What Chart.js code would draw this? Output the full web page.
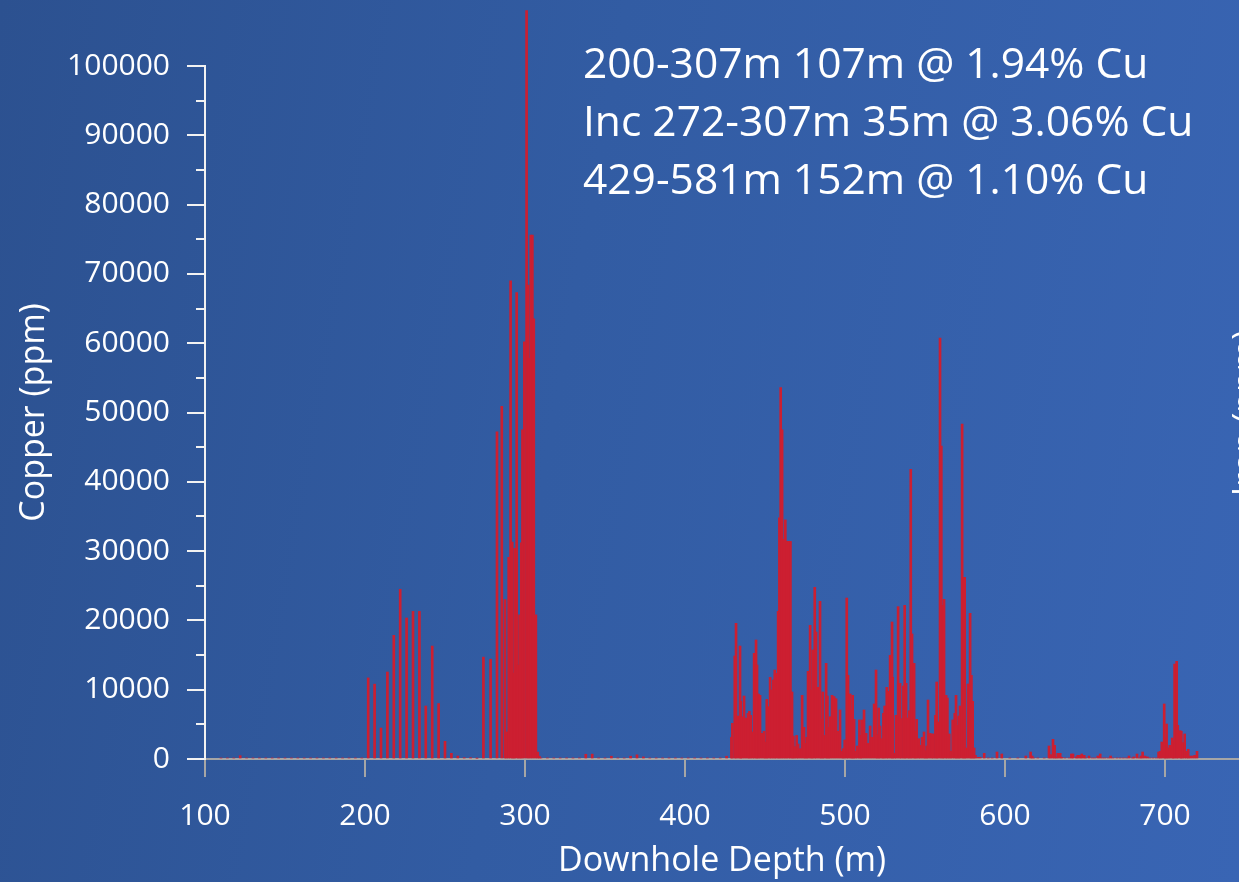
<!DOCTYPE html>
<html>
<head>
<meta charset="utf-8">
<script src="https://cdn.jsdelivr.net/npm/chart.js@4.4.0/dist/chart.umd.min.js"></script>
<style>
  html, body { margin: 0; padding: 0; overflow: hidden; }
  body {
    width: 1239px; height: 882px;
    background: linear-gradient(100deg, #2c5190 0%, #325ca3 45%, #3965b4 100%);
    font-family: "Open Sans", sans-serif;
  }
  canvas { display: block; }
</style>
</head>
<body>
<canvas id="copperChart" width="1239" height="882"></canvas>
<script>
// 4m composites above the first mineralised zone
const bgDepths = [110,114,118,122,126,130,134,138,142,146,150,154,158,162,166,170,174,178,182,186,190,194,198];
const bgCu = [150,150,150,480,150,150,150,150,150,150,150,150,150,150,150,150,150,150,150,150,150,150,150];

// 200-272m, 4m composites
const upperDepths = [202,206,210,214,218,222,226,230,234,238,242,246,250,254,258,262,266,270];
const upperCu = [11700,10800,4470,12550,17850,24490,20350,21300,21300,7650,16300,8000,2550,820,430,190,190,100];

// 272-307m high grade interval
const highDepths = [274,278.5,282.5,285.5,287.5,288.5,289.8,291,292,292.8,293.6,294.8,295.8,296.6,297.7,298.4,299.6,301,301.9,302.7,303.6,304.6,305.5,306.8,308,309];
const highCu = [14700,14400,47200,50900,23000,3900,29100,69000,31300,12400,30400,67300,13550,20800,31200,47500,60200,108000,68400,57800,75600,75600,63500,20800,1000,400];

// gap between zones
const midDepths = [310,314,318,322,326,330,334,338,342,346,350,354,358,362,366,370,374,378,382,386,390,394,398,402,406,410,414,418,422,426];
const midCu = [150,150,150,150,150,150,150,680,700,150,150,400,150,150,400,600,300,150,150,150,150,150,150,150,150,150,150,150,150,400];

// 429-581m zone, first half
const mainADepths = [429.0,429.6,431.1,431.9,433.0,434.4,434.8,435.7,436.9,438.2,439.4,440.2,441.1,442.3,443.2,444.4,445.0,445.9,446.9,448.2,449.4,450.2,451.1,451.9,453.2,454.0,455.2,456.1,457.1,458.2,459.0,459.8,460.7,461.5,462.7,463.6,464.8,465.9,466.9,467.7,468.6,469.8,470.7,471.9,473.2,474.4,475.2,476.1,476.9,478.2,479.2,479.8,481.1,481.9,483.2,484.4,485.2,486.1,486.9,488.2,489.0,489.8,490.7,491.9,493.2,494.4,495.7,496.9,498.2,499.0,499.8,501.1,501.9,503.2,504.2];
const mainACu = [3130,5150,14860,19580,6200,16300,8320,6100,9090,5900,6590,6880,6300,3900,15250,17170,13560,9380,9190,3700,4000,2450,8600,7550,11780,9960,11400,12840,12360,21300,34800,53600,47500,31700,34500,31400,31400,31400,9670,3300,1780,3400,2160,1490,9190,4570,2260,3130,12650,19290,9960,15730,24770,18330,10340,22750,5720,9670,3400,13800,9090,4570,6100,9190,9000,8700,4000,7070,1100,1490,2740,23230,12070,9380,7070];

// 429-581m zone, second half
const mainBDepths = [504.8,505.7,506.5,507.7,509.0,509.8,510.7,511.9,513.2,514.4,515.7,516.9,518.2,519.4,520.2,521.1,521.9,523.2,524.0,524.8,526.1,526.9,528.2,529.4,529.8,531.1,531.9,533.2,534.4,535.2,536.5,537.3,538.2,539.4,540.2,541.1,541.9,543.2,544.0,544.8,546.1,546.9,548.2,549.4,550.2,551.1,551.9,553.2,554.4,555.2,556.5,557.3,558.2,559.4,560.2,561.1,561.9,563.2,564.0,565.2,566.1,567.3,568.6,569.4,570.2,571.1,571.9,573.2,574.0,574.8,575.7,576.9,578.2,579.0,579.8,580.7,581.5];
const mainBCu = [9190,5720,1100,1880,5630,3400,5630,7070,3700,2260,4760,3130,7940,12840,3510,7360,4760,2930,6590,7650,10340,9760,14960,19770,11780,820,6300,21980,10920,5820,10530,22170,10920,5920,6970,41800,18040,13800,4000,5720,2930,1970,3130,3900,1200,1880,8510,3700,3610,3610,6300,11110,5340,60750,45170,22170,23040,9190,8800,3610,1100,5630,6590,9190,4860,6200,7650,48340,26210,26210,1590,10820,21020,12070,8320,1590,530];

// below 581m
const lowerDepths = [583,584.5,587,589.5,592,595,598,603,608,613,616,617,618,620.5,624.5,627.5,628.5,630,631,632,633,634.5,635.5,637.5,640,641.5,642.5,644.5,645.5,647,648,649.5,650.5,652.5,654.5,656,658,659.5,661,662.5,664.5,666,667.5,670,672,674,676,677.5,679.5,680.5,682.5,684,685,686,687.5,689,690.5,692.5,694.5,696,697,698,699.5,700.2,701,702,703,704.5,705.2,706,707.3,708,709.5,710.2,711,712.3,713.5,714.5,715.5,717,718.5,720];
const lowerCu = [240,240,820,150,150,1010,720,150,150,430,1010,430,150,150,150,1880,625,2840,1970,250,820,820,250,150,150,720,720,300,530,530,720,530,150,430,150,150,430,720,150,150,150,430,150,150,150,150,150,430,150,300,720,150,430,1010,430,300,150,150,150,1010,1110,2450,7940,3030,5050,1590,1970,3030,2550,13700,14090,4860,4090,3990,2360,3610,1110,1400,430,430,530,1110];

const xTicks = [100,200,300,400,500,600,700];
const yMax = 100000;
const yStep = 10000;

const intercepts = [
  '200-307m 107m @ 1.94% Cu',
  'Inc 272-307m 35m @ 3.06% Cu',
  '429-581m 152m @ 1.10% Cu'
];

const zones = [
  [bgDepths, bgCu], [upperDepths, upperCu], [highDepths, highCu], [midDepths, midCu],
  [mainADepths, mainACu], [mainBDepths, mainBCu], [lowerDepths, lowerCu]
];
const points = [];
zones.forEach(([d, v]) => d.forEach((x, i) => points.push({ x: x, y: v[i] })));

const FONT = 'Open Sans';
const axisWhite = '#f2f2f2';
const axisGrey = '#a6a6a6';

const overlay = {
  id: 'overlay',
  afterDraw(chart) {
    const { ctx, chartArea, scales } = chart;
    const y = scales.y;
    ctx.save();
    // minor ticks on copper axis
    ctx.strokeStyle = axisWhite;
    ctx.lineWidth = 2;
    for (let v = yStep / 2; v < yMax; v += yStep) {
      const py = Math.round(y.getPixelForValue(v));
      ctx.beginPath();
      ctx.moveTo(chartArea.left - 9, py);
      ctx.lineTo(chartArea.left, py);
      ctx.stroke();
    }
    // intercept text
    ctx.fillStyle = '#ffffff';
    ctx.font = '42.5px "' + FONT + '"';
    ctx.textBaseline = 'alphabetic';
    ctx.textAlign = 'left';
    intercepts.forEach((t, i) => ctx.fillText(t, 583, 78 + i * 58));
    // secondary axis title, cut by the frame
    ctx.translate(1257, 413);
    ctx.rotate(-Math.PI / 2);
    ctx.textAlign = 'center';
    ctx.font = '34px "' + FONT + '"';
    ctx.fillText('Iron (ppm)', 0, 0);
    ctx.restore();
  }
};

new Chart(document.getElementById('copperChart'), {
  type: 'bar',
  data: {
    datasets: [{
      label: 'Copper',
      data: points,
      backgroundColor: '#cc1f31',
      borderWidth: 0,
      barThickness: 2,
      clip: false
    }]
  },
  options: {
    responsive: false,
    animation: false,
    devicePixelRatio: 1,
    layout: { padding: { top: 66, left: 0, right: 0, bottom: 0 } },
    plugins: { legend: { display: false }, tooltip: { enabled: false } },
    scales: {
      x: {
        type: 'linear',
        min: 100,
        max: 746.25,
        offset: false,
        afterBuildTicks(s) { s.ticks = xTicks.map(v => ({ value: v })); },
        afterFit(s) { s.height = 123; },
        ticks: {
          color: '#ffffff',
          font: { family: FONT, size: 30 },
          padding: 21,
          maxRotation: 0,
          autoSkip: false,
          callback: v => String(v)
        },
        grid: { offset: false, drawOnChartArea: false, color: axisGrey, lineWidth: 2, tickLength: 18 },
        border: { color: axisGrey, width: 2 },
        title: {
          display: true,
          text: 'Downhole Depth (m)',
          color: '#ffffff',
          font: { family: FONT, size: 34 },
          padding: { top: 0, bottom: 0 }
        }
      },
      y: {
        min: 0,
        max: yMax,
        afterFit(s) { s.width = 205; },
        ticks: {
          stepSize: yStep,
          color: '#ffffff',
          font: { family: FONT, size: 30 },
          padding: 17,
          callback: v => String(v)
        },
        grid: { drawOnChartArea: false, color: axisWhite, lineWidth: 2, tickLength: 18 },
        border: { color: axisWhite, width: 2 },
        title: {
          display: true,
          text: 'Copper (ppm)',
          color: '#ffffff',
          font: { family: FONT, size: 34 },
          padding: { top: 14, bottom: 0 }
        }
      }
    }
  },
  plugins: [overlay]
});
</script>
</body>
</html>
